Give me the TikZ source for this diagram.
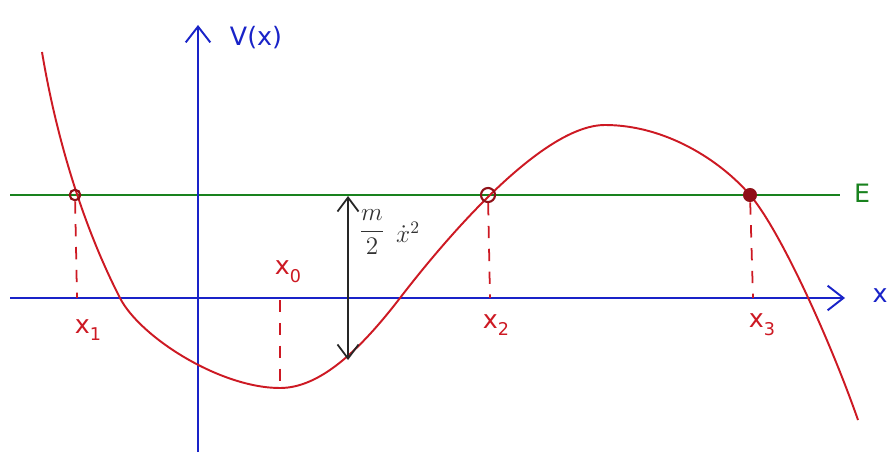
\documentclass[tikz,border=0pt]{standalone}
\usepackage{fontspec}
\setsansfont{DejaVu Sans}
\usetikzlibrary{arrows.meta}
\definecolor{cred}{RGB}{205,25,35}
\definecolor{cgreen}{RGB}{25,130,30}
\definecolor{cblue}{RGB}{25,35,200}
\newcommand{\subx}[1]{x\raisebox{-0.55ex}{\normalsize #1}}
\tikzset{
  axis/.style={cblue, line width=1.1pt},
  lbl/.style={font=\sffamily\Large},
  guide/.style={cred, dash pattern=on 7pt off 6pt, line width=1pt},
  dot/.style={circle, fill=cred!70!black, inner sep=0pt, minimum size=8pt},
  odot/.style={circle, draw=cred!70!black, line width=1.2pt, inner sep=0pt, minimum size=8pt}
}
\begin{document}
\begin{tikzpicture}[x=0.02cm,y=-0.02cm]
\useasboundingbox (0,0) rectangle (888,466);
\fill[white] (0,0) rectangle (888,466);
% energy line
\coordinate (eL) at (10,195);
\coordinate (eR) at (840,195);
\draw[cgreen, line width=1.1pt] (eL) -- (eR);
\node[lbl, cgreen] (E) at (862,193) {E};
% axes
\coordinate (xL) at (10,298);
\coordinate (xR) at (845,298);
\draw[axis, -{Straight Barb[length=9pt,width=14pt]}] (xL) -- (xR);
\node[lbl, cblue] (xlab) at (880,296) {x};
\coordinate (vB) at (198,452);
\coordinate (vT) at (198,25);
\draw[axis, -{Straight Barb[length=9pt,width=14pt]}] (vB) -- (vT);
\node[lbl, cblue] (Vlab) at (256,38) {V(x)};
% curve
\draw[cred, line width=1.1pt]
  (42,52) .. controls (55,130) and (80,220) .. (120,298)
  .. controls (140,337) and (220,388) .. (280,388)
  .. controls (320,388) and (360,350) .. (400,298)
  .. controls (440,246) and (540,125) .. (605,125)
  .. controls (665,125) and (720,160) .. (750,195)
  .. controls (780,230) and (830,340) .. (858,420);
% turning points
\node[odot, minimum size=6pt] (p1) at (75,195) {};
\node[odot] (p2) at (488,195) {};
\node[dot] (p3) at (750,195) {};
\coordinate (q1) at (77,298);
\coordinate (q2) at (490,298);
\coordinate (q3) at (753,298);
\draw[guide] (p1) -- (q1);
\draw[guide] (p2) -- (q2);
\draw[guide] (p3) -- (q3);
\coordinate (m0t) at (280,300);
\coordinate (m0b) at (280,388);
\draw[guide] (m0t) -- (m0b);
% labels
\node[lbl, cred] (x1) at (88,330) {\subx{1}};
\node[lbl, cred] (x0) at (288,272) {\subx{0}};
\node[lbl, cred] (x2) at (496,325) {\subx{2}};
\node[lbl, cred] (x3) at (762,325) {\subx{3}};
% kinetic energy arrow
\coordinate (kt) at (348,196);
\coordinate (kb) at (348,360);
\draw[black!85, line width=1pt, {Straight Barb[length=8pt,width=12pt]}-{Straight Barb[length=8pt,width=12pt]}] (kt) -- (kb);
\node[font=\Large, black!80, inner sep=0pt] (kf) at (372,232) {$\displaystyle\frac{m}{2}$};
\node[font=\Large, black!80, inner sep=0pt, anchor=west] (kx) at ([xshift=6pt]kf.east) {$\dot{x}^2$};
\end{tikzpicture}
\end{document}
